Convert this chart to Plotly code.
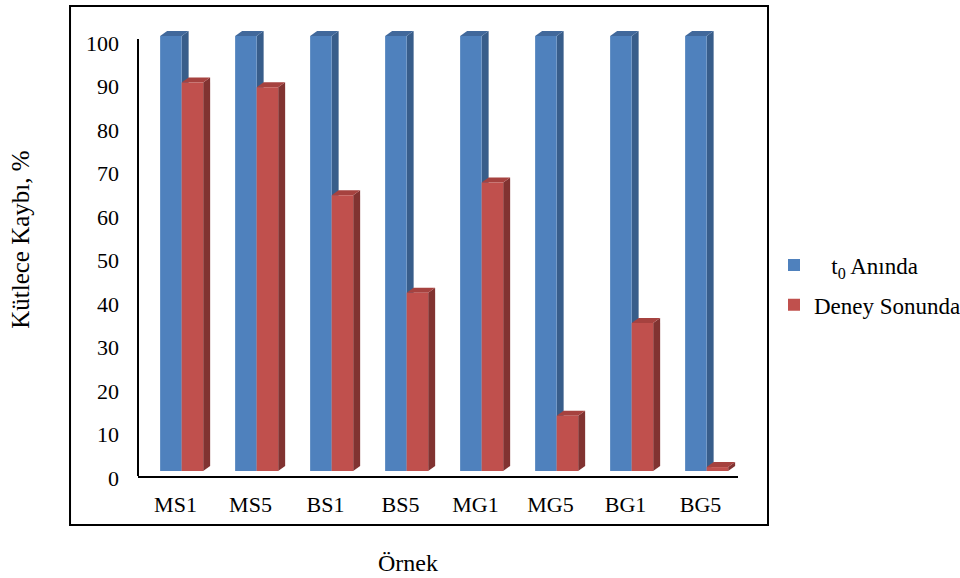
import plotly.graph_objects as go

categories = ["MS1", "MS5", "BS1", "BS5", "MG1", "MG5", "BG1", "BG5"]
t0_values = [100, 100, 100, 100, 100, 100, 100, 100]
end_values = [89.3, 88.2, 63.4, 41.0, 66.3, 12.7, 34.0, 0.9]
y_ticks = [0, 10, 20, 30, 40, 50, 60, 70, 80, 90, 100]

series_names = ["\u00a0\u00a0\u00a0t<sub>0</sub> Anında", "Deney Sonunda"]
front_colors = ["#4F81BD", "#C0504D"]
side_colors = ["#385D8A", "#813331"]
top_colors = ["#41689B", "#A6423F"]

FONT = "Liberation Serif"
x_idx = list(range(len(categories)))

# bar geometry in axis units
bar_w = 0.287
offsets = [-0.205, 0.082]
depth_x = 0.093
depth_y = 1.15

fig = go.Figure()
series = [t0_values, end_values]
shapes = []
for s, vals in enumerate(series):
    fig.add_trace(go.Bar(
        x=x_idx, y=vals, name=series_names[s],
        offset=offsets[s], width=bar_w,
        marker=dict(color=front_colors[s], line=dict(width=0)),
        legendgroup=str(s),
    ))
    for i, v in zip(x_idx, vals):
        x0 = i + offsets[s]
        x1 = x0 + bar_w
        side = (f"M {x1},0 L {x1+depth_x},{depth_y} L {x1+depth_x},{v+depth_y} "
                f"L {x1},{v} Z")
        top = (f"M {x0},{v} L {x0+depth_x},{v+depth_y} L {x1+depth_x},{v+depth_y} "
               f"L {x1},{v} Z")
        shapes.append(dict(type="path", path=side, xref="x", yref="y",
                           fillcolor=side_colors[s], line=dict(width=0), layer="below"))
        shapes.append(dict(type="path", path=top, xref="x", yref="y",
                           fillcolor=top_colors[s], line=dict(width=0), layer="below"))

ymin = -1.15
ymax = 103.68
# y axis line
shapes.append(dict(type="line", xref="paper", yref="y", x0=0, x1=0, y0=ymin, y1=99.3,
                   line=dict(color="black", width=2)))
# outer border
shapes.append(dict(type="rect", xref="paper", yref="paper",
                   x0=-0.1133, x1=1.05, y0=-0.1075, y1=1.0307,
                   line=dict(color="black", width=2), fillcolor="rgba(0,0,0,0)"))

fig.update_layout(
    width=960, height=578,
    margin=dict(l=138, r=222, t=20, b=102, autoexpand=False),
    paper_bgcolor="white", plot_bgcolor="white",
    barmode="overlay",
    font=dict(family=FONT, size=22, color="black"),
    shapes=shapes,
    showlegend=True,
    legend=dict(x=1.06, y=0.51, xanchor="left", yanchor="top",
                font=dict(family=FONT, size=23, color="black"),
                tracegroupgap=7, bgcolor="rgba(0,0,0,0)"),
    xaxis=dict(range=[-0.5, 7.5], tickmode="array", tickvals=x_idx, ticktext=categories,
               showgrid=False, zeroline=False, showline=True, linecolor="black", linewidth=2,
               ticks="", tickfont=dict(family=FONT, size=22), ticklabelstandoff=8,
               automargin=False),
    yaxis=dict(range=[ymin, ymax], tickmode="array", tickvals=y_ticks,
               showgrid=False, zeroline=False, showline=False, ticks="",
               tickfont=dict(family=FONT, size=22), ticklabelstandoff=18,
               ticklabelshift=7, automargin=False),
    annotations=[
        dict(text="Örnek", xref="paper", yref="paper", x=0.45, y=-0.1908,
             showarrow=False, font=dict(family=FONT, size=24), xanchor="center", yanchor="middle"),
        dict(text="Kütlece Kaybı, %", xref="paper", yref="paper", x=-0.197, y=0.5175,
             textangle=-90, showarrow=False, font=dict(family=FONT, size=25),
             xanchor="center", yanchor="middle"),
    ],
)

fig.write_html("out.html")
